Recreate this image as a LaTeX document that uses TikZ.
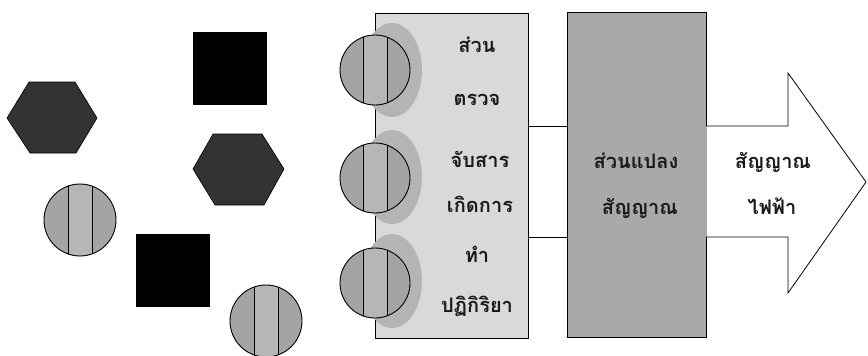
\documentclass[tikz,border=0pt]{standalone}
\usepackage{fontspec}
\newfontfamily\thaifont[Script=Thai]{Loma}
\usetikzlibrary{calc}
\definecolor{ballgray}{HTML}{A4A4A4}
\definecolor{stripegray}{HTML}{B6B6B6}
\definecolor{shadowgray}{HTML}{B4B4B4}
\definecolor{sensorgray}{HTML}{D9D9D9}
\definecolor{convgray}{HTML}{A9A9A9}
\definecolor{hexgray}{HTML}{333333}
\definecolor{textdark}{HTML}{1A1A1A}
\begin{document}
\begin{tikzpicture}[x=1pt,y=-1pt,
  ball/.style={circle, draw, line width=0.9pt, fill=ballgray, minimum size=72pt, inner sep=0pt,
    path picture={
      \fill[stripegray] ($(path picture bounding box.center)+(-12,-40)$) rectangle ($(path picture bounding box.center)+(12,40)$);
      \draw[line width=0.9pt] ($(path picture bounding box.center)+(-12,-40)$) -- ++(0,80);
      \draw[line width=0.9pt] ($(path picture bounding box.center)+(12,-40)$) -- ++(0,80);
    }},
  sball/.style={ball, minimum size=70pt},
  shadowblob/.style={fill=shadowgray, draw=none},
  hexshape/.style={fill=hexgray, draw=black, line width=0.6pt},
  sqshape/.style={fill=black, draw=black, line width=0.6pt},
  sensorbox/.style={draw, line width=0.8pt, fill=sensorgray, minimum width=153pt, minimum height=325pt, inner sep=0pt},
  convbox/.style={draw, line width=0.8pt, fill=convgray, minimum width=139pt, minimum height=325pt, inner sep=0pt},
  thtext/.style={font=\thaifont\bfseries\fontsize{20}{24}\selectfont, text=textdark, anchor=base, inner sep=0pt},
  link/.style={line width=0.8pt},
  bigarrow/.style={draw, line width=0.8pt, fill=white, line join=miter}
]
\useasboundingbox (0,0) rectangle (868,356);

% loose shapes
\draw[hexshape] (7,118) -- (29,82) -- (75,82) -- (97,118) -- (76,153) -- (30,153) -- cycle;
\draw[hexshape] (193,169) -- (213,134) -- (262,134) -- (284,169) -- (264,205) -- (215,205) -- cycle;
\draw[sqshape] (193,32) rectangle (266,104);
\draw[sqshape] (136,234) rectangle (209,306);
\node[ball] (b1) at (80,220) {};
\node[ball] (b2) at (266,321) {};

% sensor box
\node[sensorbox] (sensor) at (451.5,175.5) {};
\fill[shadowgray] (392,70) ellipse [x radius=30, y radius=47];
\fill[shadowgray] (392,177) ellipse [x radius=30, y radius=47];
\fill[shadowgray] (392,281) ellipse [x radius=30, y radius=47];
\node[sball] (s1) at (375,70) {};
\node[sball] (s2) at (375,178) {};
\node[sball] (s3) at (375,283) {};

\node[thtext] (t1) at (477,52) {ส่วน};
\node[thtext] (t2) at (477,105) {ตรวจ};
\node[thtext] (t3) at (480,167) {จับสาร};
\node[thtext] (t4) at (480,212) {เกิดการ};
\node[thtext] (t5) at (477,262) {ทำ};
\node[thtext] (t6) at (477,312) {ปฏิกิริยา};

% converter
\node[convbox] (conv) at (636.5,174.5) {};
\node[thtext] (c1) at (636,168) {ส่วนแปลง};
\node[thtext] (c2) at (640,214) {สัญญาณ};

\coordinate (ytop) at (0,126);
\coordinate (ybot) at (0,237);
\draw[link] (sensor.east |- ytop) -- (conv.west |- ytop);
\draw[link] (sensor.east |- ybot) -- (conv.west |- ybot);

% output arrow
\coordinate (tip) at (866,182);
\draw[bigarrow] (conv.east |- ytop) -- (788,126) -- (788,73) -- (tip) -- (788,293) -- (788,237) -- (conv.east |- ybot);
\node[thtext] (a1) at (773,168) {สัญญาณ};
\node[thtext] (a2) at (772,214) {ไฟฟ้า};
\end{tikzpicture}
\end{document}
